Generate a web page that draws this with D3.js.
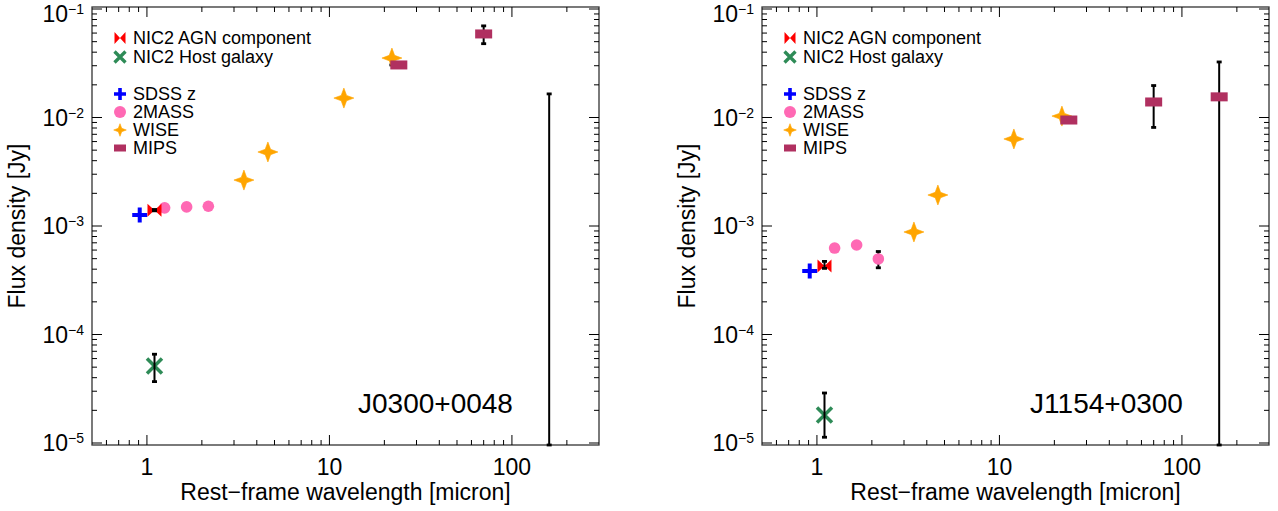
<!DOCTYPE html>
<html>
<head>
<meta charset="utf-8">
<script src="https://cdn.jsdelivr.net/npm/d3@7"></script>
<style>
  body { margin: 0; background: #fff; }
  svg { display: block; }
  text { font-family: "Liberation Sans", Arial, Helvetica, sans-serif; fill: #000; }
</style>
</head>
<body>
<svg id="sed" width="1278" height="511"></svg>
<script>
// wavelengths [micron]
const sdssWave = [0.913];
const twoMassWave = [1.25, 1.65, 2.17];
const wiseWave = [3.4, 4.6, 12, 22];
const mipsWave = [24, 70, 160];
const nic2Wave = [1.1];

// J0300+0048 : flux density [Jy], errors (number = symmetric, [lo, hi] = asymmetric)
const j0300Sdss = [1.26e-3];
const j0300TwoMass = [1.47e-3, 1.50e-3, 1.52e-3];
const j0300Wise = [2.65e-3, 4.81e-3, 1.51e-2, 3.53e-2];
const j0300WiseErr = [0, 0, 0, [4.8e-3, 0.5e-3]];
const j0300Mips = [3.05e-2, 5.89e-2, 0];
const j0300MipsErr = [0, 1.1e-2, 1.65e-2];
const j0300Agn = [1.40e-3];
const j0300AgnErr = [0.02e-3];
const j0300Host = [5.13e-5];
const j0300HostErr = [1.45e-5];

// J1154+0300
const j1154Sdss = [3.85e-4];
const j1154TwoMass = [6.26e-4, 6.68e-4, 4.97e-4];
const j1154TwoMassErr = [0, 0, 0.85e-4];
const j1154Wise = [8.81e-4, 1.93e-3, 6.34e-3, 1.03e-2];
const j1154Mips = [9.48e-3, 1.39e-2, 1.55e-2];
const j1154MipsErr = [0, 0.58e-2, 1.7e-2];
const j1154Agn = [4.27e-4];
const j1154AgnErr = [[0.2e-4, 0.45e-4]];
const j1154Host = [1.81e-5];
const j1154HostErr = [[0.68e-5, 1.08e-5]];

// axes
const xDomain = [0.5, 300];
const yDomain = [Math.pow(10, -5 - 2 / 108.5), Math.pow(10, -1 + 2 / 108.5)];
const xMajor = [1, 10, 100];
const xMajorLabels = ['1', '10', '100'];
const yMajor = [1e-5, 1e-4, 1e-3, 1e-2, 1e-1];
const yMajorExp = ['\u22125', '\u22124', '\u22123', '\u22122', '\u22121'];

const legendLabels = ['NIC2 AGN component', 'NIC2 Host galaxy', 'SDSS z', '2MASS', 'WISE', 'MIPS'];
const legendKeys = ['agn', 'host', 'sdss', 'tmass', 'wise', 'mips'];
const legendRowY = [38, 57, 94, 112, 130, 148];

const colors = {
  agn: '#ff0000', host: '#2e8b57', sdss: '#0000ff',
  tmass: '#ff69b4', wise: '#ffa500', mips: '#b03060'
};

const svg = d3.select('#sed');
const plotTop = 7, plotBottom = 445;

function marker(g, type, cx, cy, big){
  let c = colors[type];
  let m = g.append('g').attr('transform', `translate(${cx},${cy})`);
  if(type === 'agn'){
    let w = big ? 7 : 5.5, h = big ? 6.5 : 6;
    m.append('path').attr('d', `M${-w},${-h}L${w},${h}L${w},${-h}L${-w},${h}Z`).attr('fill', c);
  } else if(type === 'host'){
    let r = big ? 7.5 : 5.5;
    m.append('path').attr('d', `M${-r},${-r}L${r},${r}M${r},${-r}L${-r},${r}`)
      .attr('stroke', c).attr('stroke-width', big ? 3.5 : 3.3).attr('fill', 'none');
  } else if(type === 'sdss'){
    let r = big ? 7.5 : 6;
    m.append('path').attr('d', `M${-r},0L${r},0M0,${-r}L0,${r}`)
      .attr('stroke', c).attr('stroke-width', big ? 4 : 3.6).attr('fill', 'none');
  } else if(type === 'tmass'){
    m.append('circle').attr('r', big ? 5.8 : 6).attr('fill', c);
  } else if(type === 'wise'){
    let r = big ? 10 : 6.3, q = r * 0.27;
    m.append('path').attr('d', `M0,${-r}L${q},${-q}L${r},0L${q},${q}L0,${r}L${-q},${q}L${-r},0L${-q},${-q}Z`)
      .attr('fill', c).attr('stroke', c).attr('stroke-width', 0.6).attr('stroke-linejoin', 'round');
  } else if(type === 'mips'){
    let w = big ? 17 : 12, h = big ? 9 : 7;
    m.append('rect').attr('x', -w / 2).attr('y', -h / 2).attr('width', w).attr('height', h).attr('fill', c);
  }
}

function errorBars(g, x, y, waves, flux, errs){
  waves.forEach((wl, i) => {
    let e = errs ? errs[i] : 0;
    if(!e) return;
    let lo = Array.isArray(e) ? e[0] : e, hi = Array.isArray(e) ? e[1] : e;
    let f = flux[i];
    let yHi = Math.max(plotTop, y(f + hi));
    let yLo = (f - lo) > 0 ? Math.min(plotBottom, y(f - lo)) : plotBottom;
    let cx = x(wl);
    g.append('line').attr('x1', cx).attr('x2', cx).attr('y1', yHi).attr('y2', yLo)
      .attr('stroke', '#000').attr('stroke-width', 2);
    [yHi, yLo].forEach(yy => {
      g.append('line').attr('x1', cx - 2.5).attr('x2', cx + 2.5).attr('y1', yy).attr('y2', yy)
        .attr('stroke', '#000').attr('stroke-width', 2.8);
    });
  });
}

function points(g, x, y, type, waves, flux){
  waves.forEach((wl, i) => {
    if(flux[i] > 0) marker(g, type, x(wl), y(flux[i]), true);
  });
}

function drawPanel(left, right, name, d){
  let x = d3.scaleLog().domain(xDomain).range([left, right]);
  let y = d3.scaleLog().domain(yDomain).range([plotBottom, plotTop]);
  let g = svg.append('g');

  // frame
  g.append('rect').attr('x', left).attr('y', plotTop).attr('width', right - left).attr('height', plotBottom - plotTop)
    .attr('fill', 'none').attr('stroke', '#333').attr('stroke-width', 1.3);

  // ticks
  let isMajor = v => Math.abs(Math.log10(v) - Math.round(Math.log10(v))) < 1e-6;
  let ticks = g.append('g').attr('stroke', '#000').attr('stroke-width', 1);
  x.ticks().forEach(v => {
    let len = isMajor(v) ? 10 : 5, px = x(v);
    if(px < left + 0.5 || px > right - 0.5) return;
    ticks.append('line').attr('x1', px).attr('x2', px).attr('y1', plotBottom).attr('y2', plotBottom - len);
    ticks.append('line').attr('x1', px).attr('x2', px).attr('y1', plotTop).attr('y2', plotTop + len);
  });
  y.ticks().forEach(v => {
    let len = isMajor(v) ? 10 : 5, py = y(v);
    ticks.append('line').attr('x1', left).attr('x2', left + len).attr('y1', py).attr('y2', py);
    ticks.append('line').attr('x1', right).attr('x2', right - len).attr('y1', py).attr('y2', py);
  });

  // tick labels
  xMajor.forEach((v, i) => {
    g.append('text').attr('x', x(v)).attr('y', 475).attr('text-anchor', 'middle')
      .attr('font-size', 23).text(xMajorLabels[i]);
  });
  yMajor.forEach((v, i) => {
    let t = g.append('text').attr('x', left - 8).attr('y', Math.max(22, y(v) + 8)).attr('text-anchor', 'end');
    t.append('tspan').attr('font-size', 23).text('10');
    t.append('tspan').attr('font-size', 14).attr('dy', -8).text(yMajorExp[i]);
  });

  // axis titles
  g.append('text').attr('x', (left + right) / 2).attr('y', 500).attr('text-anchor', 'middle')
    .attr('font-size', 23).text('Rest\u2212frame wavelength [micron]');
  g.append('text').attr('transform', `translate(${left - 67},${(plotTop + plotBottom) / 2}) rotate(-90)`)
    .attr('text-anchor', 'middle').attr('font-size', 23).text('Flux density [Jy]');

  // object name
  g.append('text').attr('x', x(100) + 1).attr('y', 413).attr('text-anchor', 'end')
    .attr('font-size', 28).text(name);

  // legend
  legendKeys.forEach((k, i) => {
    marker(g, k, left + 28, legendRowY[i], false);
    g.append('text').attr('x', left + 41).attr('y', legendRowY[i] + 6).attr('font-size', 18).text(legendLabels[i]);
  });

  // data
  let data = g.append('g');
  errorBars(data, x, y, wiseWave, d.wise, d.wiseErr);
  errorBars(data, x, y, twoMassWave, d.tmass, d.tmassErr);
  errorBars(data, x, y, mipsWave, d.mips, d.mipsErr);
  points(data, x, y, 'sdss', sdssWave, d.sdss);
  points(data, x, y, 'tmass', twoMassWave, d.tmass);
  points(data, x, y, 'wise', wiseWave, d.wise);
  points(data, x, y, 'mips', mipsWave, d.mips);
  points(data, x, y, 'agn', nic2Wave, d.agn);
  points(data, x, y, 'host', nic2Wave, d.host);
  errorBars(data, x, y, nic2Wave, d.agn, d.agnErr);
  errorBars(data, x, y, nic2Wave, d.host, d.hostErr);
}

drawPanel(92, 599, 'J0300+0048', {
  sdss: j0300Sdss, tmass: j0300TwoMass, wise: j0300Wise, wiseErr: j0300WiseErr,
  mips: j0300Mips, mipsErr: j0300MipsErr, agn: j0300Agn, agnErr: j0300AgnErr,
  host: j0300Host, hostErr: j0300HostErr
});
drawPanel(762, 1269, 'J1154+0300', {
  sdss: j1154Sdss, tmass: j1154TwoMass, tmassErr: j1154TwoMassErr, wise: j1154Wise,
  mips: j1154Mips, mipsErr: j1154MipsErr, agn: j1154Agn, agnErr: j1154AgnErr,
  host: j1154Host, hostErr: j1154HostErr
});
</script>
</body>
</html>
